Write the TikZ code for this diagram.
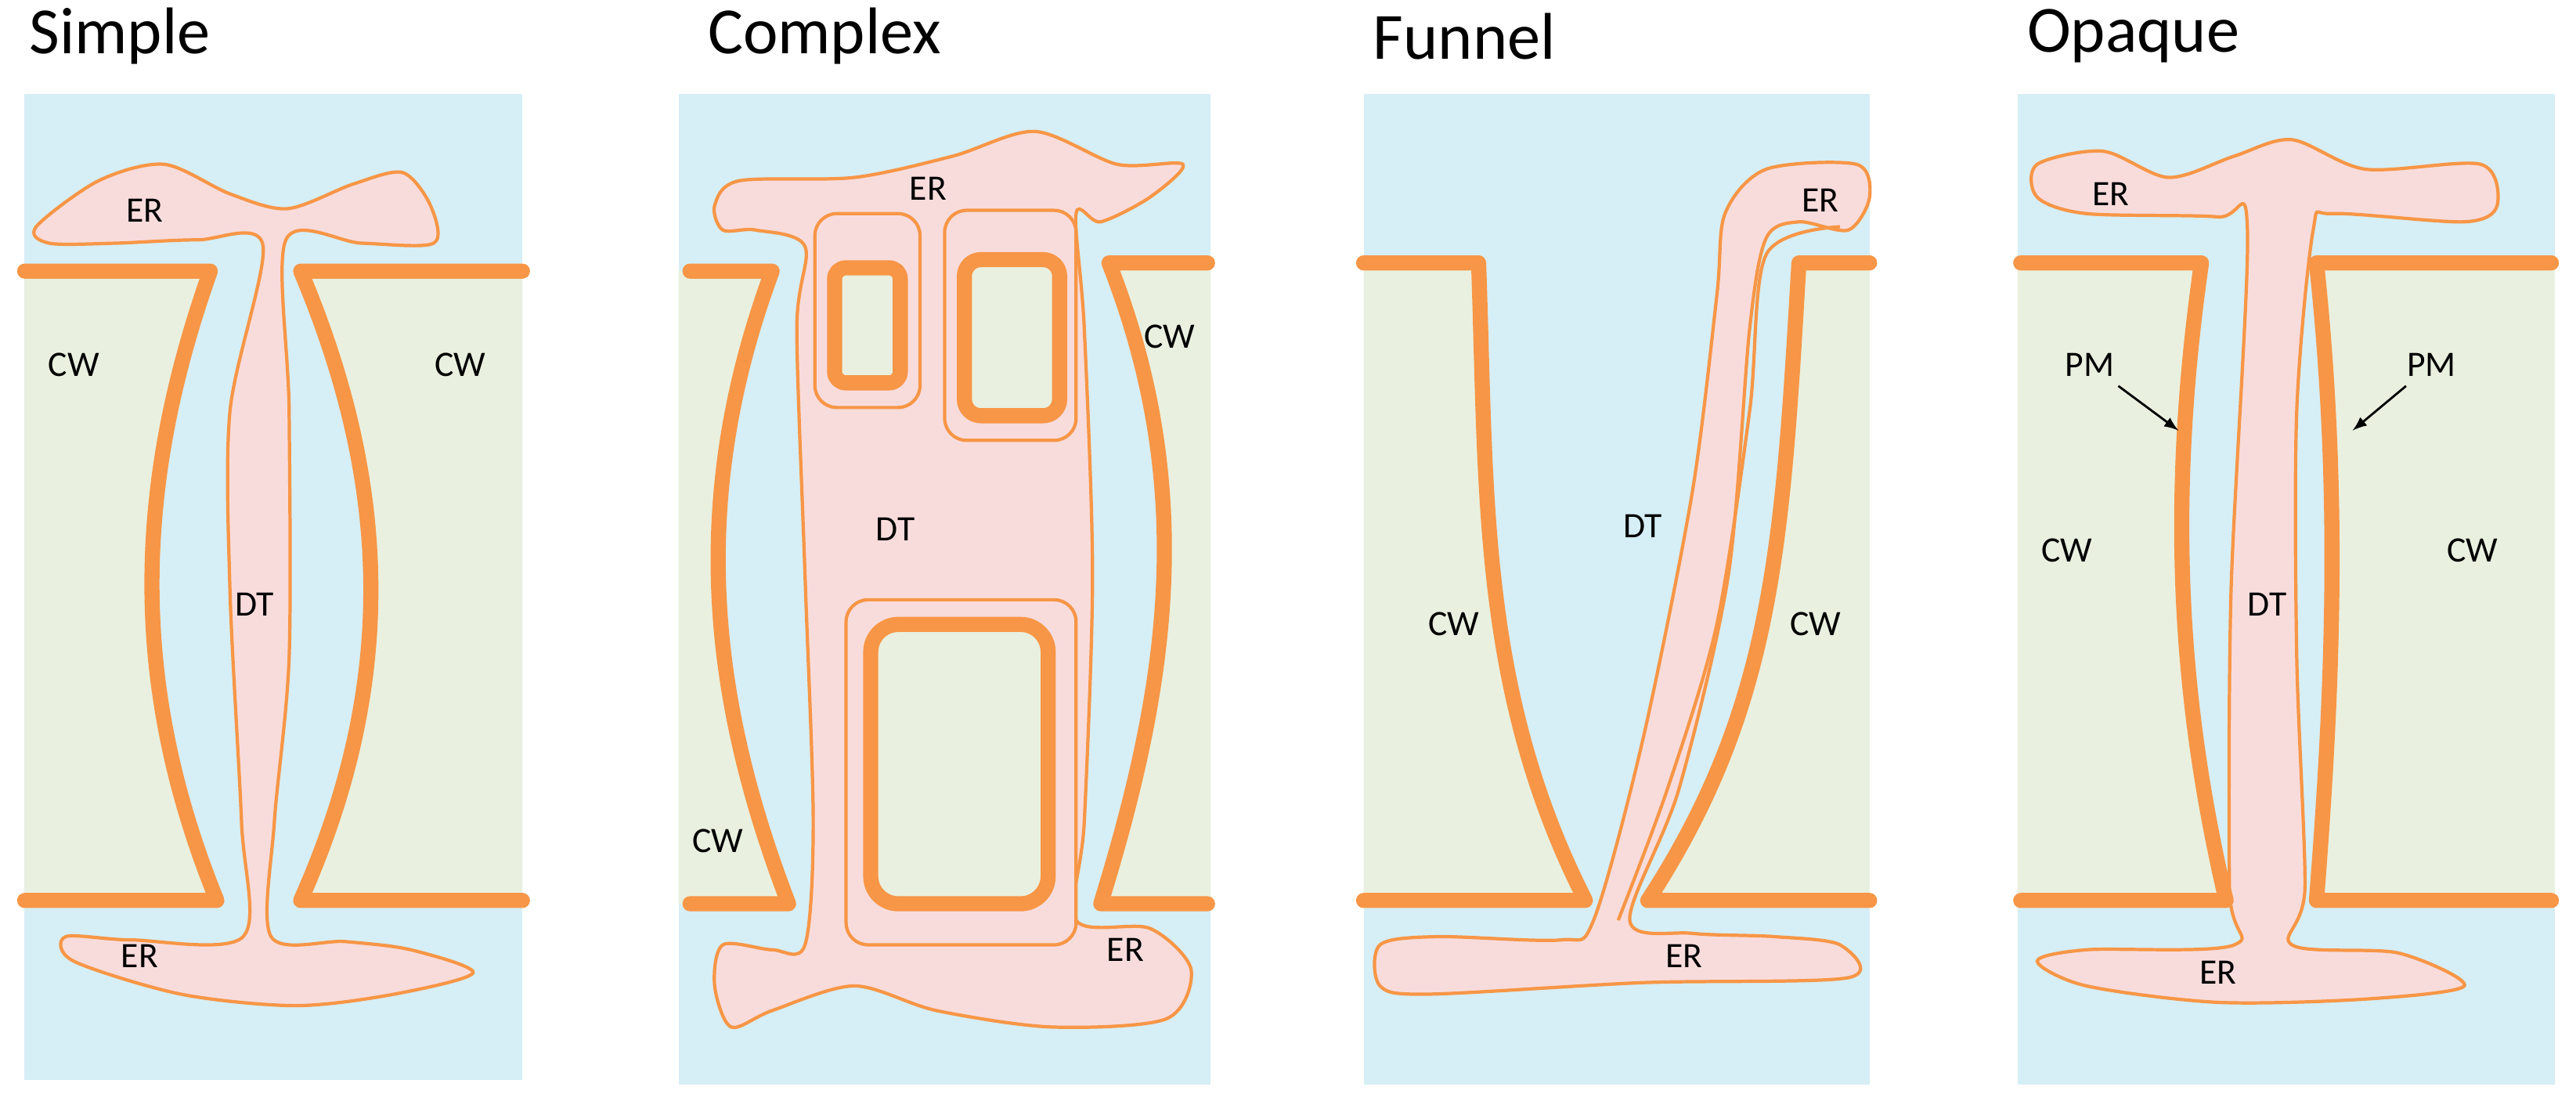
\documentclass[tikz,border=0pt]{standalone}
\usepackage{fontspec}
\setmainfont{Carlito}
\definecolor{cyto}{HTML}{D6EEF5}
\definecolor{wallg}{HTML}{E9F0DF}
\definecolor{erpink}{HTML}{F8DCDC}
\definecolor{orng}{HTML}{F79646}
\begin{document}
\begin{tikzpicture}[x=0.021cm,y=-0.021cm,
  wall/.style={orng,line width=5.5pt,line cap=round,line join=round},
  mem/.style={orng,line width=1.2pt,fill=erpink},
  lab/.style={font=\fontsize{13}{15}\selectfont},
  ttl/.style={font=\fontsize{24}{28}\selectfont,anchor=west}]
\useasboundingbox (0,0) rectangle (1568,672);
% Simple
\fill[cyto] (15,57) rectangle (318,657);
\fill[wallg] (15,165) -- (128,165) .. controls (80,300) and (80,420) .. (132,548) -- (15,548) -- cycle;
\fill[wallg] (318,165) -- (183,165) .. controls (240,300) and (240,420) .. (183,548) -- (318,548) -- cycle;
\draw[wall] (15,165) -- (128,165) .. controls (80,300) and (80,420) .. (132,548) -- (15,548);
\draw[wall] (318,165) -- (183,165) .. controls (240,300) and (240,420) .. (183,548) -- (318,548);
\draw[mem] plot[smooth cycle,tension=0.5] coordinates {(22,138) (60,110) (100,100) (140,118) (175,127) (215,112) (245,105) (262,125) (264,148) (220,148) (174,146) (176,250) (176,400) (167,500) (165,570) (210,573) (250,578) (288,592) (240,605) (180,612) (110,605) (45,585) (40,570) (80,572) (148,570) (147,500) (140,360) (140,250) (160,149) (120,146) (70,148) (30,148)};
\node[ttl] (t1) at (12,22) {Simple};
\node[lab] (er1) at (88,128) {ER};
\node[lab] (cw1) at (45,222) {CW};
\node[lab] (cw2) at (280,222) {CW};
\node[lab] (dt1) at (155,368) {DT};
\node[lab] (er2) at (85,582) {ER};
% Complex
\fill[cyto] (413,57) rectangle (737,660);
\fill[wallg] (413,165) -- (470,165) .. controls (420,300) and (430,420) .. (480,550) -- (413,550) -- cycle;
\fill[wallg] (737,160) -- (675,160) .. controls (730,300) and (710,420) .. (670,550) -- (737,550) -- cycle;
\draw[mem] plot[smooth cycle,tension=0.5] coordinates {(435,125) (450,110) (520,108) (580,95) (630,80) (680,100) (720,100) (700,120) (670,135) (655,130) (660,200) (665,350) (660,500) (655,560) (700,565) (725,590) (710,620) (640,625) (570,615) (520,600) (470,615) (445,625) (435,600) (440,575) (470,578) (490,575) (495,500) (490,350) (485,200) (490,150) (460,140) (440,140)};
\draw[wall] (420,165) -- (470,165) .. controls (420,300) and (430,420) .. (480,550) -- (420,550);
\draw[wall] (735,160) -- (675,160) .. controls (730,300) and (710,420) .. (670,550) -- (735,550);
\draw[mem,rounded corners=8pt] (496,130) rectangle (560,248);
\draw[mem,rounded corners=8pt] (575,128) rectangle (655,268);
\draw[mem,rounded corners=8pt] (515,365) rectangle (655,575);
\draw[wall,fill=wallg,rounded corners=4pt] (508,163) rectangle (548,233);
\draw[wall,fill=wallg,rounded corners=6pt] (587,158) rectangle (645,253);
\draw[wall,fill=wallg,rounded corners=10pt] (530,380) rectangle (638,550);
\node[ttl] (t2) at (425,22) {Complex};
\node[lab] (er3) at (565,115) {ER};
\node[lab] (cw3) at (712,205) {CW};
\node[lab] (dt2) at (545,322) {DT};
\node[lab] (cw4) at (437,512) {CW};
\node[lab] (er4) at (685,578) {ER};
% Funnel
\fill[cyto] (830,57) rectangle (1138,660);
\fill[wallg] (830,160) -- (900,160) .. controls (905,300) and (900,420) .. (965,548) -- (830,548) -- cycle;
\fill[wallg] (1138,160) -- (1095,160) .. controls (1085,330) and (1080,430) .. (1003,548) -- (1138,548) -- cycle;
\draw[mem] plot[smooth cycle,tension=0.5] coordinates {(1050,130) (1075,103) (1130,100) (1138,120) (1125,140) (1095,135) (1075,145) (1065,200) (1052,350) (1022,480) (992,560) (1030,568) (1080,570) (1120,575) (1125,595) (1000,598) (870,605) (840,600) (840,575) (875,570) (950,572) (970,560) (1000,450) (1030,300) (1045,180)};
\draw[orng,line width=1.2pt] plot[smooth,tension=0.5] coordinates {(1120,138) (1075,155) (1065,250) (1045,380) (1015,480) (985,560)};
\draw[wall] (830,160) -- (900,160) .. controls (905,300) and (900,420) .. (965,548) -- (830,548);
\draw[wall] (1138,160) -- (1095,160) .. controls (1085,330) and (1080,430) .. (1003,548) -- (1138,548);
\node[ttl] (t3) at (830,22) {Funnel};
\node[lab] (er5) at (1108,122) {ER};
\node[lab] (dt3) at (1000,320) {DT};
\node[lab] (cw5) at (885,380) {CW};
\node[lab] (cw6) at (1105,380) {CW};
\node[lab] (er6) at (1025,582) {ER};
% Opaque
\fill[cyto] (1228,57) rectangle (1555,660);
\fill[wallg] (1228,160) -- (1340,160) .. controls (1320,300) and (1325,420) .. (1355,548) -- (1228,548) -- cycle;
\fill[wallg] (1555,160) -- (1410,160) .. controls (1425,300) and (1420,420) .. (1410,548) -- (1555,548) -- cycle;
\draw[mem] plot[smooth cycle,tension=0.5] coordinates {(1240,100) (1280,92) (1320,108) (1360,95) (1395,85) (1440,103) (1510,100) (1520,125) (1500,135) (1420,130) (1408,140) (1398,250) (1398,400) (1403,540) (1395,575) (1460,580) (1500,600) (1440,608) (1350,610) (1270,600) (1240,585) (1270,578) (1360,575) (1357,540) (1358,360) (1368,140) (1350,132) (1270,130) (1240,120)};
\draw[wall] (1230,160) -- (1340,160) .. controls (1320,300) and (1325,420) .. (1355,548) -- (1230,548);
\draw[wall] (1553,160) -- (1410,160) .. controls (1425,300) and (1420,420) .. (1410,548) -- (1553,548);
\node[ttl] (t4) at (1228,22) {Opaque};
\node[lab] (er7) at (1285,118) {ER};
\node[lab] (pm1) at (1272,222) {PM};
\node[lab] (pm2) at (1480,222) {PM};
\coordinate (pa) at (1326,262);
\coordinate (pb) at (1432,262);
\draw[-latex,line width=0.8pt] (pm1) -- (pa);
\draw[-latex,line width=0.8pt] (pm2) -- (pb);
\node[lab] (cw7) at (1258,335) {CW};
\node[lab] (dt4) at (1380,368) {DT};
\node[lab] (cw8) at (1505,335) {CW};
\node[lab] (er8) at (1350,592) {ER};
\end{tikzpicture}
\end{document}
